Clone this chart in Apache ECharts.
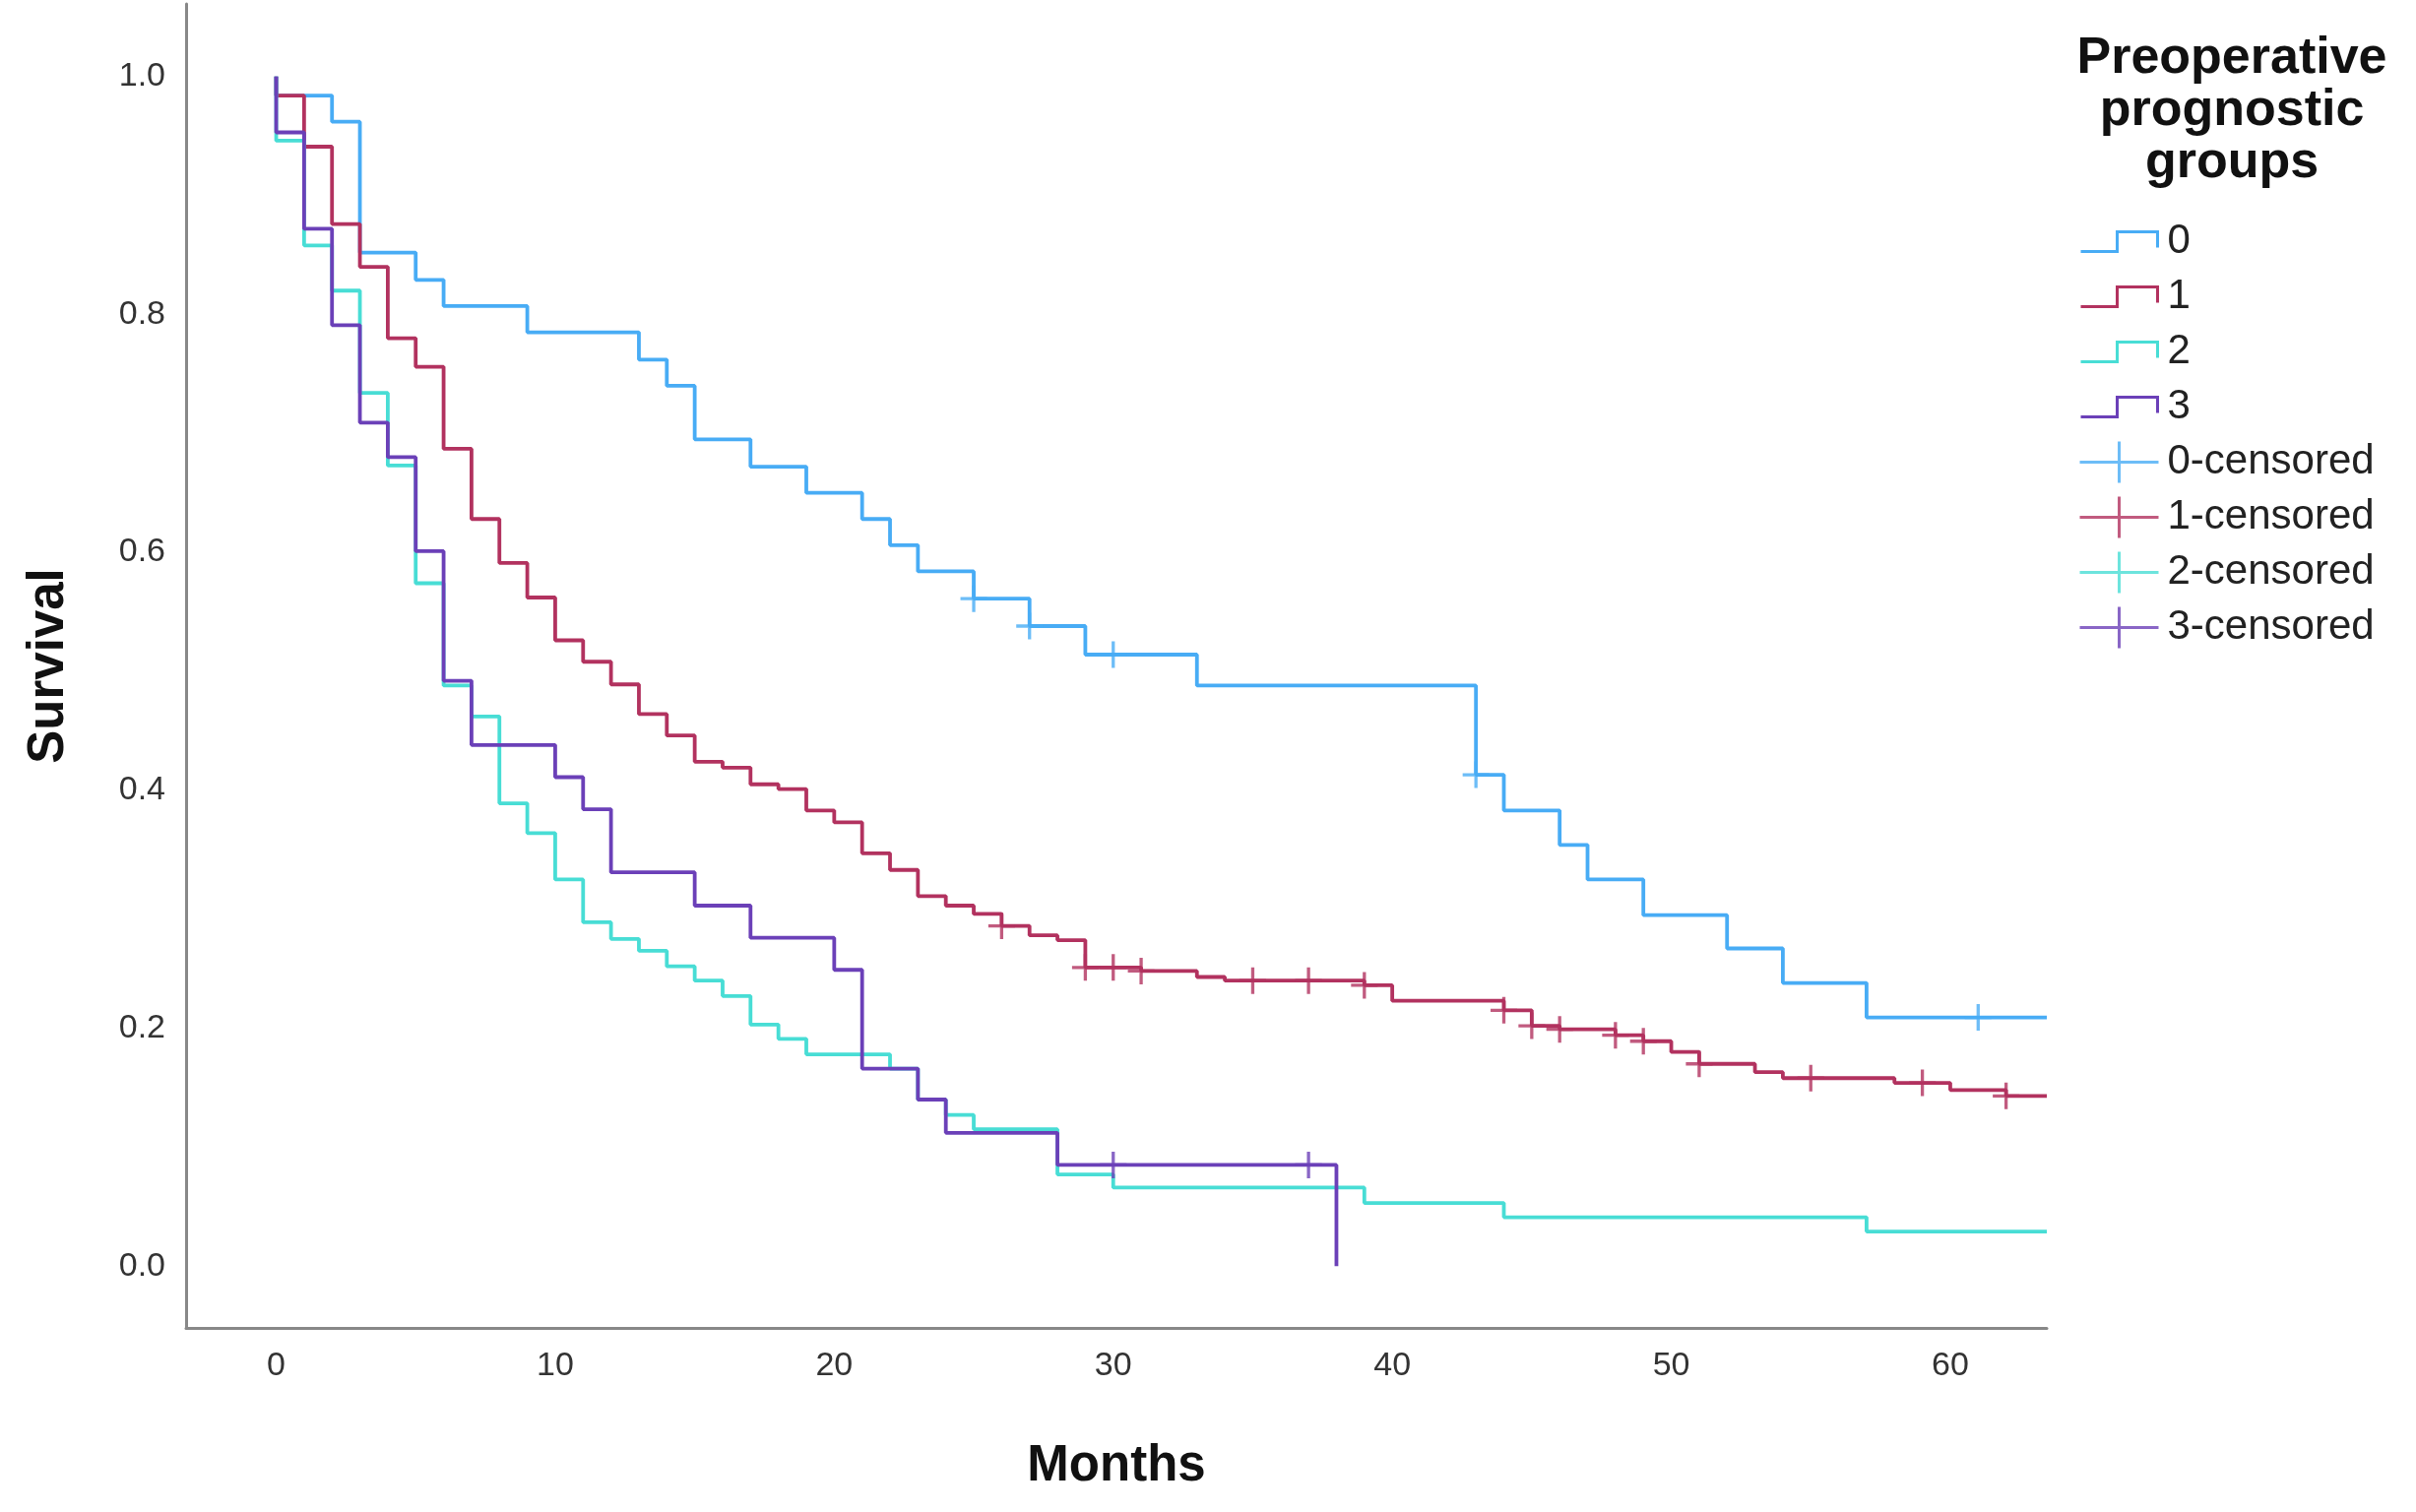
<!DOCTYPE html>
<html>
<head>
<meta charset="utf-8">
<script src="https://cdn.jsdelivr.net/npm/echarts@6/dist/echarts.min.js"></script>
<style>
html,body{margin:0;padding:0;background:#fff;}
#chart{width:2454px;height:1536px;}
</style>
</head>
<body>
<div id="chart"></div>
<script>
// ---- data ----
const xTicks = [0, 10, 20, 30, 40, 50, 60];
const yTicks = [0, 0.2, 0.4, 0.6, 0.8, 1.0];
const groupNames = ['0', '1', '2', '3'];
const censorNames = ['0-censored', '1-censored', '2-censored', '3-censored'];
const legendTitle = 'Preoperative\nprognostic\ngroups';

const g0Times = [0, 0, 2, 3, 5, 6, 9, 13, 14, 15, 17, 19, 21, 22, 23, 25, 27, 29, 33, 43, 44, 46, 47, 49, 52, 54, 57];
const g0Surv  = [1, 0.984, 0.962, 0.852, 0.829, 0.807, 0.785, 0.762, 0.740, 0.695, 0.672, 0.650, 0.628, 0.606, 0.584, 0.561, 0.538, 0.514, 0.488, 0.413, 0.383, 0.354, 0.325, 0.295, 0.267, 0.238, 0.209];
const g0Censored = [25, 27, 30, 43, 61];

const g1Times = [0, 0, 1, 2, 3, 4, 5, 6, 7, 8, 9, 10, 11, 12, 13, 14, 15, 16, 17, 18, 19, 20, 21, 22, 23, 24, 25, 26, 27, 28, 29, 31, 33, 34, 39, 40, 44, 45, 46, 48, 49, 50, 51, 53, 54, 58, 60, 62];
const g1Surv  = [1, 0.984, 0.941, 0.876, 0.840, 0.780, 0.756, 0.687, 0.628, 0.591, 0.562, 0.526, 0.508, 0.489, 0.464, 0.446, 0.424, 0.419, 0.405, 0.401, 0.383, 0.373, 0.347, 0.333, 0.311, 0.303, 0.296, 0.286, 0.278, 0.274, 0.251, 0.248, 0.243, 0.240, 0.236, 0.223, 0.215, 0.202, 0.199, 0.194, 0.189, 0.180, 0.170, 0.163, 0.158, 0.154, 0.148, 0.143];
const g1Censored = [26, 29, 30, 31, 35, 37, 39, 44, 45, 46, 48, 49, 51, 55, 59, 62];

const g2Times = [0, 0, 1, 2, 3, 4, 5, 6, 7, 8, 9, 10, 11, 12, 13, 14, 15, 16, 17, 18, 19, 22, 23, 24, 25, 28, 30, 39, 44, 57];
const g2Surv  = [1, 0.946, 0.858, 0.820, 0.734, 0.673, 0.574, 0.488, 0.462, 0.389, 0.364, 0.325, 0.289, 0.275, 0.265, 0.252, 0.240, 0.227, 0.203, 0.191, 0.178, 0.166, 0.140, 0.127, 0.115, 0.077, 0.066, 0.053, 0.041, 0.029];
const g2Censored = [];

const g3Times = [0, 0, 1, 2, 3, 4, 5, 6, 7, 10, 11, 12, 15, 17, 20, 21, 23, 24, 28, 38];
const g3Surv  = [1, 0.953, 0.872, 0.791, 0.709, 0.680, 0.601, 0.492, 0.438, 0.411, 0.384, 0.331, 0.303, 0.276, 0.249, 0.166, 0.140, 0.112, 0.085, 0];
const g3Censored = [30, 37];

// follow-up continues past the right edge of the axis for groups 0-2
const curvesRunToEdge = [true, true, true, false];

// ---- styling ----
const colors = ['#48ACF5', '#B2325F', '#48DDD5', '#6B40B8'];
const X_MIN = -3.23, X_MAX = 63.46;
const Y_MIN = -0.052, Y_MAX = 1.061;
const FONT = '"Liberation Sans", Arial, sans-serif';

const times = [g0Times, g1Times, g2Times, g3Times];
const survs = [g0Surv, g1Surv, g2Surv, g3Surv];
const censored = [g0Censored, g1Censored, g2Censored, g3Censored];

function survAt(g, t) {
  let s = survs[g][0];
  for (let i = 0; i < times[g].length; i++) {
    if (times[g][i] <= t) s = survs[g][i];
  }
  return s;
}

const stepIcon = 'path://M0,0M0,42M0,31L37,31L37,11L78,11L78,27';
const plusIcon = 'path://M0,21L80,21M40,0L40,42';
const plusSymbol = 'path://M0,13L26,13M13,0L13,26';

const series = [];
groupNames.forEach((name, g) => {
  const pts = times[g].map((t, i) => [t, survs[g][i]]);
  if (curvesRunToEdge[g]) pts.push([X_MAX, survs[g][survs[g].length - 1]]);
  series.push({
    name: name,
    type: 'line',
    step: 'end',
    data: pts,
    showSymbol: false,
    symbol: 'none',
    lineStyle: { color: colors[g], width: 3.8 },
    itemStyle: { color: colors[g] },
    silent: true,
    z: 2 + g
  });
});
censorNames.forEach((name, g) => {
  series.push({
    name: name,
    type: 'scatter',
    data: censored[g].map(t => [t, survAt(g, t)]),
    symbol: plusSymbol,
    symbolSize: 27,
    itemStyle: { color: 'none', borderColor: colors[g], borderWidth: 3.3 },
    silent: true,
    z: 10 + g
  });
});

const legendData = groupNames.map((n, g) => ({
  name: n, icon: stepIcon,
  itemStyle: { color: 'none', borderColor: colors[g], borderWidth: 3 }
})).concat(censorNames.map((n, g) => ({
  name: n, icon: plusIcon,
  itemStyle: { color: 'none', borderColor: colors[g], borderWidth: 3 }
})));

const chart = echarts.init(document.getElementById('chart'), null, { renderer: 'canvas' });
chart.setOption({
  animation: false,
  backgroundColor: '#ffffff',
  textStyle: { fontFamily: FONT },
  title: {
    text: legendTitle,
    left: 2262,
    top: 28,
    textAlign: 'center',
    textStyle: { fontFamily: FONT, fontSize: 52, fontWeight: 'bold', color: '#111', lineHeight: 53, align: 'center' }
  },
  legend: {
    orient: 'vertical',
    left: 2105,
    top: 217,
    itemWidth: 80,
    itemHeight: 42,
    itemGap: 9,
    selectedMode: false,
    data: legendData,
    textStyle: { fontFamily: FONT, fontSize: 42, lineHeight: 42, color: '#222', padding: [0, 0, 0, 4] }
  },
  grid: { left: 189, top: 4, width: 1890, bottom: 187, containLabel: false },
  xAxis: {
    type: 'value',
    min: X_MIN,
    max: X_MAX,
    name: 'Months',
    nameLocation: 'middle',
    nameGap: 115,
    nameTextStyle: { fontFamily: FONT, fontSize: 51, fontWeight: 'bold', color: '#111' },
    axisLine: { show: true, onZero: false, lineStyle: { color: '#888', width: 3 } },
    axisTick: { show: false },
    splitLine: { show: false },
    axisLabel: {
      customValues: xTicks,
      margin: 22,
      fontFamily: FONT, fontSize: 34, color: '#333',
      formatter: v => String(Math.round(v))
    }
  },
  yAxis: {
    type: 'value',
    min: Y_MIN,
    max: Y_MAX,
    name: 'Survival',
    nameLocation: 'middle',
    nameGap: 114,
    nameTextStyle: { fontFamily: FONT, fontSize: 51, fontWeight: 'bold', color: '#111' },
    axisLine: { show: true, onZero: false, lineStyle: { color: '#888', width: 3 } },
    axisTick: { show: false },
    splitLine: { show: false },
    axisLabel: {
      customValues: yTicks,
      margin: 21,
      fontFamily: FONT, fontSize: 34, color: '#333',
      formatter: v => v.toFixed(1)
    }
  },
  series: series
});
</script>
</body>
</html>
